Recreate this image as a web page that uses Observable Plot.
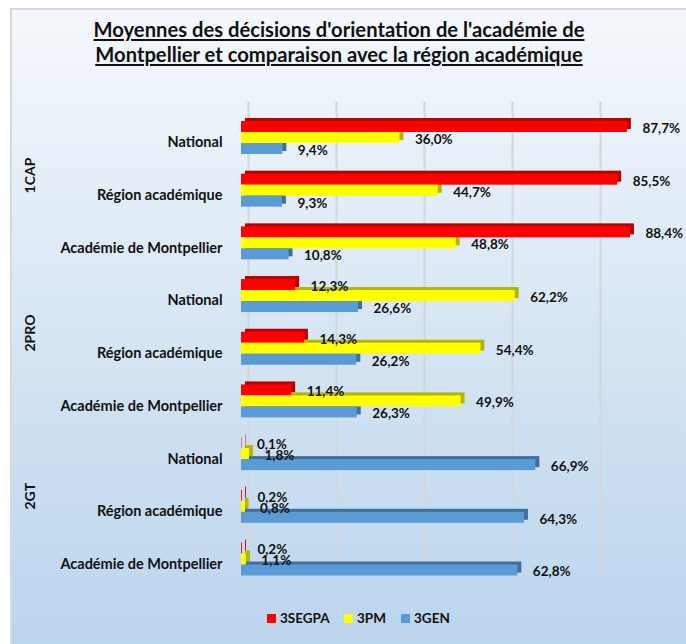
<!DOCTYPE html>
<html>
<head>
<meta charset="utf-8">
<script src="https://cdn.jsdelivr.net/npm/d3@7"></script>
<script src="https://cdn.jsdelivr.net/npm/@observablehq/plot@0.6"></script>
<style>
  html, body { margin: 0; padding: 0; background: #ffffff; }
  #wrap { position: relative; width: 686px; height: 644px; overflow: hidden; background: #ffffff; font-family: Lato, "Open Sans", sans-serif; }
  #frame { position: absolute; left: 10px; top: 8px; width: 690px; height: 650px;
    border-top: 2px solid #d9d9d9; border-left: 2px solid #d9d9d9;
    background: linear-gradient(to bottom, #f4f8fc 0%, #e3edf7 30%, #cde0f1 65%, #bad4ed 100%); }
  #title { position: absolute; left: 0; width: 678px; top: 17px; text-align: center;
    font-weight: 700; font-size: 20.2px; line-height: 25px; color: #111; text-decoration: underline; text-underline-offset: 2px; }
  #chart { position: absolute; left: 0; top: 0; }
  #legend { position: absolute; top: 610px; left: 0; width: 686px; font-weight: 700; font-size: 13.5px; color: #111; }
  .lg { position: absolute; display: flex; align-items: center; height: 16px; }
  .sw { width: 9px; height: 9px; margin-right: 4px; }
</style>
</head>
<body>
<div id="wrap">
  <div id="frame"></div>
  <div id="title">Moyennes des décisions d'orientation de l'académie de<br>Montpellier et comparaison avec la région académique</div>
  <div id="chart"></div>
  <div id="legend"></div>
</div>
<script>
// ---- data ----
const groups = ["1CAP", "2PRO", "2GT"];
const places = ["National", "Région académique", "Académie de Montpellier"];
const series = ["3SEGPA", "3PM", "3GEN"];
const seg = [87.7, 85.5, 88.4, 12.3, 14.3, 11.4, 0.1, 0.2, 0.2];
const pm  = [36.0, 44.7, 48.8, 62.2, 54.4, 49.9, 1.8, 0.8, 1.1];
const gen = [9.4, 9.3, 10.8, 26.6, 26.2, 26.3, 66.9, 64.3, 62.8];
const xTicks = [0, 20, 40, 60, 80];

// ---- styles ----
const front = {"3SEGPA": "#ff0000", "3PM": "#ffff00", "3GEN": "#5b9bd5"};
const back  = {"3SEGPA": "#b80000", "3PM": "#b5b500", "3GEN": "#3f6f9e"};

// ---- table ----
const rows = [];
groups.forEach(g => places.forEach(p => rows.push({row: g + "|" + p, group: g, place: p})));
const valuesBySeries = {"3SEGPA": seg, "3PM": pm, "3GEN": gen};
const bars = [];
rows.forEach((r, i) => series.forEach(s => bars.push({row: r.row, series: s, value: valuesBySeries[s][i]})));
const groupLabels = groups.map(g => ({row: g + "|" + places[1], group: g}));
const fmt = v => v.toFixed(1).replace(".", ",") + "%";

const backMarks = series.map(s => Plot.barX(bars.filter(d => d.series === s), {
  x: "value", y: "series", fy: "row", fill: back[s], dx: 4, dy: -3
}));

const chart = Plot.plot({
  width: 686,
  height: 644,
  marginLeft: 241,
  marginRight: 5,
  marginTop: 120,
  marginBottom: 68,
  style: {background: "transparent", overflow: "visible"},
  x: {domain: [0, 100], axis: null},
  y: {domain: series, padding: 0, axis: null},
  fy: {domain: rows.map(r => r.row), paddingInner: 0.345, paddingOuter: 0, round: false, axis: null},
  marks: [
    Plot.ruleX(xTicks, {x: d => d, stroke: "#d3d7dc", strokeWidth: 2, dx: 7, insetTop: -18.5, insetBottom: -3}),
    ...backMarks,
    Plot.barX(bars, {x: "value", y: "series", fy: "row", fill: d => front[d.series]}),
    Plot.text(bars, {x: "value", y: "series", fy: "row", text: d => fmt(d.value),
      dx: 15, dy: 1.5, textAnchor: "start", fontWeight: "bold", fontSize: 13.5, fill: "#111",
      fontFamily: "Lato, 'Open Sans', sans-serif"}),
    Plot.text(rows, {fy: "row", text: "place", frameAnchor: "left", dx: -19, dy: 5,
      textAnchor: "end", fontWeight: "bold", fontSize: 14.5, fill: "#111",
      fontFamily: "Lato, 'Open Sans', sans-serif"}),
    Plot.text(groupLabels, {fy: "row", text: "group", frameAnchor: "left", dx: -211, dy: 3,
      rotate: -90, fontWeight: "bold", fontSize: 14, fill: "#111",
      fontFamily: "Lato, 'Open Sans', sans-serif"})
  ]
});
document.getElementById("chart").appendChild(chart);

// ---- legend ----
const legendPos = [{x: 267}, {x: 344}, {x: 401}];
const legend = document.getElementById("legend");
series.forEach((s, i) => {
  const el = document.createElement("div");
  el.className = "lg";
  el.style.left = legendPos[i].x + "px";
  el.innerHTML = `<span class="sw" style="background:${front[s]}"></span><span>${s}</span>`;
  legend.appendChild(el);
});
</script>
</body>
</html>
